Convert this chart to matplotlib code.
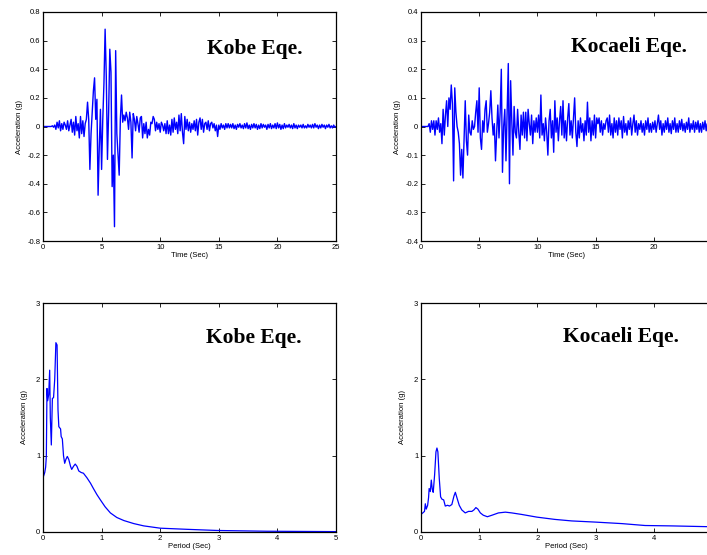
import numpy as np
import matplotlib
matplotlib.use("Agg")
import matplotlib.pyplot as plt
from matplotlib.ticker import FuncFormatter

plt.rcParams['font.family'] = ['Liberation Sans', 'DejaVu Sans']
plt.rcParams['axes.unicode_minus'] = False

# ground acceleration records (g), sampled every 0.1 s from 0 to 25 s
kobe_acc = [
    0, 0, 0, 0, 0, 0, 0, 0, 0.005, -0.005,
    0.01, -0.02, 0.03, -0.01, 0.04, -0.03, 0.02, -0.02, 0.03, 0.01,
    -0.02, 0.04, -0.03, 0.01, 0.05, -0.04, 0.03, -0.06, 0.07, -0.03,
    0.02, -0.08, 0.07, -0.05, 0.04, -0.07, 0.02, 0.05, 0.17, 0.05,
    -0.30, -0.05, 0.10, 0.25, 0.34, 0.05, 0.19, -0.48, -0.15, 0.12,
    -0.30, 0.05, 0.30, 0.68, 0.35, -0.23, 0.10, 0.54, 0.38, -0.42,
    -0.20, -0.70, 0.53, -0.05, -0.20, -0.34, 0.05, 0.22, 0.03, 0.08,
    0.04, 0.10, 0.06, -0.02, 0.10, 0.03, -0.22, 0.09, 0.05, -0.03,
    0.07, 0.02, -0.04, 0.06, 0.07, -0.08, 0.02, -0.05, 0.03, -0.08,
    -0.02, -0.06, 0.03, 0.02, 0.07, 0.05, -0.03, 0.03, -0.02, 0.02,
    -0.04, 0.03, 0.01, -0.03, 0.02, -0.05, 0.04, -0.05, 0.01, -0.06,
    0.05, -0.04, 0.06, -0.02, 0.03, -0.05, 0.08, -0.03, 0.09, -0.04,
    -0.12, 0.07, -0.02, 0.05, -0.03, 0.03, -0.04, 0.02, -0.02, 0.04,
    -0.03, 0.05, -0.06, 0.03, 0.06, -0.02, 0.05, -0.04, 0.02, 0.03,
    -0.02, 0.04, -0.03, 0.02, 0.03, -0.01, 0.02, -0.03, 0.01, -0.07,
    0.01, -0.02, 0.02, -0.01, 0.01, -0.02, 0.02, -0.01, 0.02, -0.01,
    0.015, -0.01, 0.02, -0.015, 0.01, -0.02, 0.015, -0.005, 0.02, -0.01,
    0.01, -0.015, 0.02, -0.01, 0.025, -0.015, 0.01, -0.02, 0.015, -0.01,
    0.02, -0.01, 0.015, -0.02, 0.01, -0.015, 0.02, -0.01, 0.015, -0.005,
    0.01, -0.02, 0.015, -0.01, 0.02, -0.015, 0.01, -0.01, 0.02, -0.015,
    0.025, -0.01, 0.015, -0.02, 0.01, -0.015, 0.02, -0.01, 0.01, -0.005,
    0.015, -0.01, 0.01, -0.015, 0.02, -0.01, 0.01, -0.015, 0.01, -0.005,
    0.01, -0.01, 0.015, -0.01, 0.005, -0.01, 0.015, -0.005, 0.01, -0.01,
    0.015, -0.01, 0.02, -0.005, 0.01, -0.015, 0.01, -0.01, 0.015, -0.005,
    0.01, -0.015, 0.01, -0.005, 0.015, -0.01, 0.005, -0.01, 0.01, -0.005,
    0.0,
]

kocaeli_acc = [
    0, 0, 0, 0, 0, 0, 0, 0.01, -0.02, 0.02,
    -0.01, 0.02, -0.03, 0.02, -0.01, 0.03, -0.02, 0.01, -0.06, 0.06,
    -0.03, 0.04, 0.09, 0.0, 0.10, 0.06, 0.145, 0.08, -0.19, 0.135,
    0.05, 0.0, -0.02, -0.06, -0.17, -0.08, -0.18, -0.05, 0.09, -0.05,
    -0.10, 0.04, -0.02, -0.03, 0.02, -0.01, 0.0, 0.05, 0.09, -0.02,
    0.135, -0.04, -0.08, 0.02, -0.02, 0.06, 0.09, -0.02, 0.01, 0.05,
    0.125, 0.03, -0.03, 0.01, -0.12, -0.02, 0.075, -0.04, 0.05, 0.20,
    -0.16, 0.0, 0.06, -0.12, 0.05, 0.22, -0.20, 0.16, 0.02, -0.10,
    0.07, -0.02, -0.04, 0.06, -0.02, -0.08, 0.04, -0.03, 0.05, -0.04,
    0.05, -0.05, 0.06, 0.01, -0.03, 0.04, -0.06, 0.02, -0.02, 0.03,
    -0.02, 0.04, -0.04, 0.11, -0.03, 0.01, -0.05, 0.03, -0.02, -0.10,
    0.02, 0.06, -0.04, 0.02, -0.09, 0.09, -0.02, 0.03, -0.05, 0.02,
    0.07, -0.03, 0.09, -0.04, 0.02, -0.05, 0.03, 0.08, -0.03, 0.02,
    -0.04, 0.03, 0.10, -0.02, -0.07, 0.02, -0.04, 0.03, -0.02, 0.01,
    -0.05, 0.02, -0.03, 0.085, -0.02, 0.03, -0.05, 0.02, -0.03, 0.04,
    -0.04, 0.03, 0.01, 0.03, -0.02, 0.02, -0.03, 0.01, -0.01, 0.02,
    0.03, -0.02, 0.04, -0.03, 0.01, -0.04, 0.03, -0.02, 0.02, -0.03,
    0.03, -0.01, 0.02, -0.04, 0.035, -0.02, 0.01, -0.03, 0.02, -0.01,
    0.03, -0.03, 0.01, 0.04, -0.02, 0.02, -0.03, 0.01, -0.01, 0.02,
    -0.02, 0.01, -0.03, 0.02, -0.01, 0.03, -0.02, 0.01, -0.02, 0.015,
    -0.01, 0.02, -0.02, 0.01, 0.04, -0.01, 0.02, -0.03, 0.01, -0.02,
    0.02, -0.01, 0.03, -0.02, 0.01, -0.025, 0.02, -0.01, 0.03, -0.02,
    0.01, -0.02, 0.02, -0.01, 0.025, -0.015, 0.01, -0.02, 0.015, -0.01,
    0.03, -0.02, 0.01, -0.01, 0.02, -0.02, 0.015, -0.01, 0.02, -0.02,
    0.01, -0.02, 0.015, -0.01, 0.02, -0.015, 0.01, -0.005, 0.015, -0.01,
    0.0,
]

# response spectra: period (s) and spectral acceleration (g)
kobe_T = [0, 0.03, 0.045, 0.057, 0.068, 0.08, 0.097, 0.114, 0.125, 0.142,
          0.16, 0.18, 0.2, 0.22, 0.24, 0.256, 0.27, 0.3, 0.31, 0.33,
          0.35, 0.37, 0.39, 0.415, 0.44, 0.47, 0.49, 0.52, 0.55, 0.58,
          0.61, 0.65, 0.69, 0.75, 0.81, 0.86, 0.92, 0.98, 1.06, 1.15,
          1.26, 1.38, 1.55, 1.72, 2.0, 2.46, 2.97, 3.82, 5.0]
kobe_sa = [0.71, 0.78, 0.85, 0.99, 1.88, 1.72, 1.8, 2.12, 1.5, 1.14,
           1.75, 1.76, 2.0, 2.48, 2.45, 1.6, 1.38, 1.35, 1.25, 1.22,
           1.0, 0.9, 0.95, 0.99, 0.95, 0.86, 0.82, 0.86, 0.89, 0.86,
           0.8, 0.78, 0.77, 0.71, 0.64, 0.57, 0.49, 0.42, 0.33, 0.25,
           0.19, 0.15, 0.11, 0.08, 0.05, 0.035, 0.02, 0.01, 0.005]

kocaeli_T = [0, 0.03, 0.06, 0.074, 0.09, 0.114, 0.13, 0.14, 0.16, 0.177,
             0.194, 0.21, 0.234, 0.257, 0.274, 0.29, 0.314, 0.337, 0.36, 0.39,
             0.417, 0.457, 0.49, 0.53, 0.566, 0.59, 0.617, 0.657, 0.7, 0.76,
             0.817, 0.874, 0.91, 0.943, 0.977, 1.02, 1.07, 1.14, 1.22, 1.33,
             1.45, 1.56, 1.73, 1.99, 2.3, 2.59, 2.99, 3.45, 3.85, 4.3,
             4.91, 5.0]
kocaeli_sa = [0.23, 0.25, 0.27, 0.37, 0.3, 0.35, 0.45, 0.57, 0.53, 0.68,
              0.56, 0.52, 0.75, 1.05, 1.1, 1.05, 0.7, 0.46, 0.43, 0.42,
              0.34, 0.35, 0.34, 0.36, 0.47, 0.52, 0.45, 0.35, 0.29, 0.25,
              0.27, 0.27, 0.29, 0.32, 0.3, 0.25, 0.22, 0.2, 0.22, 0.25,
              0.26, 0.25, 0.23, 0.195, 0.165, 0.145, 0.13, 0.11, 0.085, 0.08,
              0.07, 0.065]

dt = 0.1
t_kobe = np.arange(len(kobe_acc)) * dt
t_koc = np.arange(len(kocaeli_acc)) * dt

W, H = 707, 555
fig = plt.figure(figsize=(W / 100, H / 100), dpi=100)


def box(x0, top, w, bottom):
    return [x0 / W, (H - bottom) / H, w / W, (bottom - top) / H]


fmt = FuncFormatter(lambda v, p: '%g' % (round(v, 3) + 0.0))


def style(ax):
    ax.tick_params(direction='in', top=True, right=True, length=3, width=0.6,
                   labelsize=5.5, pad=2, colors='black')
    for s in ax.spines.values():
        s.set_linewidth(0.9)
    ax.xaxis.set_major_formatter(fmt)
    ax.yaxis.set_major_formatter(fmt)


title_kw = dict(fontsize=15.5, fontweight='bold', family='Liberation Serif',
                va='baseline', ha='left')
blue = '#0000ff'

# Kobe time history
ax1 = fig.add_axes(box(43, 12, 293, 241))
ax1.plot(t_kobe, kobe_acc, color=blue, lw=1.0)
ax1.set_xlim(0, 25)
ax1.set_ylim(-0.8, 0.8)
ax1.set_xticks([0, 5, 10, 15, 20, 25])
ax1.set_yticks(np.arange(-0.8, 0.81, 0.2))
ax1.set_xlabel('Time (Sec)', fontsize=5.5, labelpad=1)
ax1.set_ylabel('Acceleration (g)', fontsize=5.5, labelpad=3)
ax1.text(0.56, 0.817, 'Kobe Eqe.', transform=ax1.transAxes, **title_kw)
style(ax1)

# Kocaeli time history (right edge runs off the page)
ax2 = fig.add_axes(box(421, 12, 291, 241))
ax2.plot(t_koc, kocaeli_acc, color=blue, lw=1.0)
ax2.set_xlim(0, 25)
ax2.set_ylim(-0.4, 0.4)
ax2.set_xticks([0, 5, 10, 15, 20])
ax2.set_yticks(np.arange(-0.4, 0.41, 0.1))
ax2.set_xlabel('Time (Sec)', fontsize=5.5, labelpad=1)
ax2.set_ylabel('Acceleration (g)', fontsize=5.5, labelpad=3)
ax2.text(0.515, 0.825, 'Kocaeli Eqe.', transform=ax2.transAxes, **title_kw)
style(ax2)

# Kobe spectrum
ax3 = fig.add_axes(box(43, 303, 293, 532))
ax3.plot(kobe_T, kobe_sa, color=blue, lw=0.9)
ax3.set_xlim(0, 5)
ax3.set_ylim(0, 3)
ax3.set_xticks([0, 1, 2, 3, 4, 5])
ax3.set_yticks([0, 1, 2, 3])
ax3.set_xlabel('Period (Sec)', fontsize=5.5, labelpad=1)
ax3.set_ylabel('Acceleration (g)', fontsize=5.5, labelpad=6)
ax3.text(0.556, 0.825, 'Kobe Eqe.', transform=ax3.transAxes, **title_kw)
style(ax3)

# Kocaeli spectrum
ax4 = fig.add_axes(box(421, 303, 291, 532))
ax4.plot(kocaeli_T, kocaeli_sa, color=blue, lw=0.9)
ax4.set_xlim(0, 5)
ax4.set_ylim(0, 3)
ax4.set_xticks([0, 1, 2, 3, 4])
ax4.set_yticks([0, 1, 2, 3])
ax4.set_xlabel('Period (Sec)', fontsize=5.5, labelpad=1)
ax4.set_ylabel('Acceleration (g)', fontsize=5.5, labelpad=6)
ax4.text(0.488, 0.83, 'Kocaeli Eqe.', transform=ax4.transAxes, **title_kw)
style(ax4)

fig.savefig('out.png', dpi=100)
